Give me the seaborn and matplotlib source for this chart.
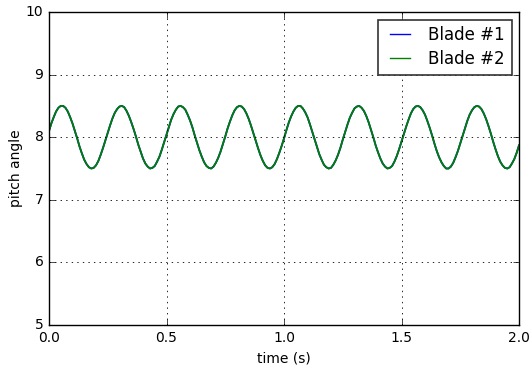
import numpy as np
import pandas as pd
import matplotlib
matplotlib.use("Agg")
import matplotlib.pyplot as plt
import seaborn as sns

# --- dados (passo de 0.01 s, 0 a 2 s) ---
time_s = np.linspace(0.0, 2.0, 201)
pitch = [
    8.10, 8.22, 8.32, 8.41, 8.47, 8.50, 8.50, 8.47, 8.41, 8.32,
    8.22, 8.10, 7.98, 7.85, 7.74, 7.64, 7.57, 7.52, 7.50, 7.51,
    7.55, 7.62, 7.72, 7.83, 7.95, 8.07, 8.19, 8.30, 8.39, 8.45,
    8.49, 8.50, 8.48, 8.42, 8.34, 8.24, 8.13, 8.01, 7.88, 7.77,
    7.66, 7.58, 7.53, 7.50, 7.51, 7.54, 7.61, 7.69, 7.80, 7.92,
    8.04, 8.16, 8.28, 8.37, 8.44, 8.49, 8.50, 8.48, 8.44, 8.36,
    8.27, 8.16, 8.03, 7.91, 7.79, 7.69, 7.60, 7.54, 7.51, 7.50,
    7.53, 7.59, 7.67, 7.77, 7.89, 8.01, 8.14, 8.25, 8.35, 8.43,
    8.48, 8.50, 8.49, 8.45, 8.38, 8.29, 8.18, 8.06, 7.94, 7.82,
    7.71, 7.62, 7.55, 7.51, 7.50, 7.52, 7.57, 7.65, 7.75, 7.86,
    7.98, 8.11, 8.23, 8.33, 8.41, 8.47, 8.50, 8.50, 8.46, 8.40,
    8.32, 8.21, 8.09, 7.97, 7.85, 7.73, 7.64, 7.56, 7.52, 7.50,
    7.51, 7.56, 7.63, 7.72, 7.83, 7.96, 8.08, 8.20, 8.31, 8.39,
    8.46, 8.49, 8.50, 8.47, 8.42, 8.34, 8.24, 8.12, 8.00, 7.87,
    7.76, 7.66, 7.58, 7.53, 7.50, 7.51, 7.54, 7.61, 7.70, 7.81,
    7.93, 8.05, 8.17, 8.28, 8.38, 8.45, 8.49, 8.50, 8.48, 8.43,
    8.36, 8.26, 8.15, 8.03, 7.90, 7.78, 7.68, 7.60, 7.54, 7.50,
    7.50, 7.53, 7.59, 7.68, 7.78, 7.90, 8.02, 8.14, 8.26, 8.36,
    8.43, 8.48, 8.50, 8.49, 8.45, 8.38, 8.29, 8.18, 8.06, 7.93,
    7.81, 7.70, 7.61, 7.55, 7.51, 7.50, 7.52, 7.58, 7.65, 7.75,
    7.87,
]
blades = ["Blade #1", "Blade #2"]
blade_colors = {"Blade #1": "blue", "Blade #2": "green"}

df = pd.concat(
    [pd.DataFrame({"time": time_s, "pitch": pitch, "blade": b}) for b in blades],
    ignore_index=True,
)

# --- estilo clássico do matplotlib ---
plt.style.use("classic")
plt.rcParams["font.family"] = ["DejaVu Sans"]

fig = plt.figure(figsize=(5.29, 3.69), dpi=100, facecolor="white")
ax = fig.add_axes([49 / 529, 1 - 325 / 369, 470 / 529, 313 / 369])
ax.set_facecolor("white")

sns.lineplot(data=df, x="time", y="pitch", hue="blade", palette=blade_colors,
             errorbar=None, linewidth=1.3, ax=ax)

ax.set_xlim(0, 2)
ax.set_ylim(5, 10)
ax.set_xticks([0.0, 0.5, 1.0, 1.5, 2.0])
ax.set_yticks([5, 6, 7, 8, 9, 10])
ax.set_xticklabels(["0.0", "0.5", "1.0", "1.5", "2.0"])
ax.tick_params(labelsize=10)
ax.grid(True, color="black", linestyle=":", linewidth=0.6)
ax.set_xlabel("time (s)", fontsize=10)
ax.set_ylabel("pitch angle", fontsize=10, labelpad=2)

leg = ax.legend(loc="upper right", fontsize=12, frameon=True, fancybox=False,
                handlelength=1.8, labelspacing=0.35, borderaxespad=0.45)
leg.get_frame().set_edgecolor("#333333")
leg.get_frame().set_linewidth(1.2)
for h in leg.get_lines():
    h.set_linewidth(1.0)

fig.savefig("out.png", dpi=100, facecolor="white")
